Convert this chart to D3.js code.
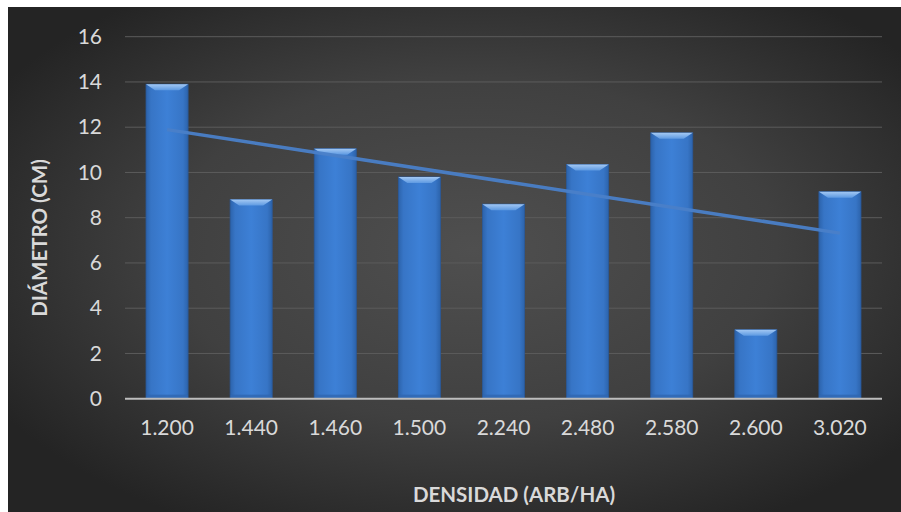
<!DOCTYPE html>
<html>
<head>
<meta charset="utf-8">
<script src="https://cdn.jsdelivr.net/npm/d3@7"></script>
<style>
  html, body { margin: 0; padding: 0; background: #ffffff; }
  svg { display: block; }
  text { font-family: Lato, "Open Sans", sans-serif; }
</style>
</head>
<body>
<svg id="chart" width="901" height="512"></svg>
<script>
// Densidad de plantación (árboles por hectárea) y diámetro medio (cm)
const categories = ["1.200", "1.440", "1.460", "1.500", "2.240", "2.480", "2.580", "2.600", "3.020"];
const diametro = [13.9, 8.8, 11.05, 9.8, 8.6, 10.35, 11.75, 3.05, 9.15];
const yTicks = [0, 2, 4, 6, 8, 10, 12, 14, 16];

const svg = d3.select("#chart");
const W = 901, H = 512;
const margin = { left: 125, right: 19, top: 36.7, bottom: 113.3 };

const defs = svg.append("defs");

// Fondo oscuro con degradado radial
const bg = defs.append("radialGradient").attr("id", "bgGrad")
  .attr("cx", "52%").attr("cy", "48%").attr("r", "62%");
bg.append("stop").attr("offset", "0%").attr("stop-color", "#4f4f4f");
bg.append("stop").attr("offset", "55%").attr("stop-color", "#404040");
bg.append("stop").attr("offset", "100%").attr("stop-color", "#242424");

// Cuerpo de la barra: azul con bordes algo más oscuros
const barGrad = defs.append("linearGradient").attr("id", "barGrad")
  .attr("x1", "0%").attr("x2", "100%").attr("y1", "0%").attr("y2", "0%");
barGrad.append("stop").attr("offset", "0%").attr("stop-color", "#2c63ab");
barGrad.append("stop").attr("offset", "12%").attr("stop-color", "#3775c6");
barGrad.append("stop").attr("offset", "50%").attr("stop-color", "#3d80d6");
barGrad.append("stop").attr("offset", "88%").attr("stop-color", "#3775c6");
barGrad.append("stop").attr("offset", "100%").attr("stop-color", "#2c63ab");

const bevelGrad = defs.append("linearGradient").attr("id", "bevelGrad")
  .attr("x1", "0%").attr("x2", "0%").attr("y1", "0%").attr("y2", "100%");
bevelGrad.append("stop").attr("offset", "0%").attr("stop-color", "#a3c8f3");
bevelGrad.append("stop").attr("offset", "100%").attr("stop-color", "#5e9ae2");

svg.append("rect").attr("x", 8).attr("y", 7).attr("width", W - 8).attr("height", H - 7)
  .attr("fill", "url(#bgGrad)");

const x = d3.scaleBand().domain(categories)
  .range([margin.left, W - margin.right]).paddingInner(0.5).paddingOuter(0.25);
const y = d3.scaleLinear().domain([0, 16]).range([H - margin.bottom, margin.top]);

// Líneas de división horizontales
svg.append("g").selectAll("line").data(yTicks.filter(d => d > 0)).join("line")
  .attr("x1", margin.left).attr("x2", W - margin.right)
  .attr("y1", d => y(d)).attr("y2", d => y(d))
  .attr("stroke", "#5c5c5c").attr("stroke-width", 1);

// Barras con bisel superior
const bars = svg.append("g").selectAll("g").data(categories.map((c, i) => ({ c, v: diametro[i] }))).join("g");
bars.append("rect")
  .attr("x", d => x(d.c)).attr("width", x.bandwidth())
  .attr("y", d => y(d.v)).attr("height", d => y(0) - y(d.v))
  .attr("fill", "url(#barGrad)")
  .attr("stroke", "#2a5a9c").attr("stroke-width", 0.8);
const bv = 6;
bars.append("path")
  .attr("d", d => {
    const x0 = x(d.c), x1 = x0 + x.bandwidth(), t = y(d.v);
    return `M${x0},${t}L${x1},${t}L${x1 - bv * 1.5},${t + bv}L${x0 + bv * 1.5},${t + bv}Z`;
  })
  .attr("fill", "url(#bevelGrad)");
bars.append("rect")
  .attr("x", d => x(d.c) + 0.5).attr("width", x.bandwidth() - 1)
  .attr("y", y(0) - 4).attr("height", 4)
  .attr("fill", "#2f67b0").attr("opacity", 0.8);

// Eje X
svg.append("line")
  .attr("x1", margin.left).attr("x2", W - margin.right)
  .attr("y1", y(0)).attr("y2", y(0))
  .attr("stroke", "#bdbdbd").attr("stroke-width", 2);

// Etiquetas de los ejes
const yAxis = d3.axisLeft(y).tickValues(yTicks).tickSize(0).tickPadding(23);
const gy = svg.append("g").attr("transform", `translate(${margin.left},0)`).call(yAxis);
gy.select(".domain").remove();
gy.selectAll("text").attr("fill", "#d9d9d9").style("font-size", "21px")
  .style("font-family", "Lato, 'Open Sans', sans-serif");

const xAxis = d3.axisBottom(x).tickSize(0).tickPadding(21);
const gx = svg.append("g").attr("transform", `translate(0,${y(0)})`).call(xAxis);
gx.select(".domain").remove();
gx.selectAll("text").attr("fill", "#d9d9d9").style("font-size", "21px")
  .style("font-family", "Lato, 'Open Sans', sans-serif");

// Línea de tendencia lineal (mínimos cuadrados)
const n = diametro.length;
const mx = d3.mean(d3.range(n)), my = d3.mean(diametro);
const slope = d3.sum(d3.range(n), i => (i - mx) * (diametro[i] - my)) / d3.sum(d3.range(n), i => (i - mx) ** 2);
const icpt = my - slope * mx;
const trend = [0, n - 1].map(i => [x(categories[i]) + x.bandwidth() / 2, y(icpt + slope * i)]);
svg.append("path").attr("d", d3.line()(trend))
  .attr("stroke", "#4a80c8").attr("stroke-width", 3.5).attr("fill", "none")
  .attr("stroke-linecap", "butt").attr("opacity", 0.95);

// Títulos de los ejes
svg.append("text").attr("x", 514).attr("y", 502)
  .attr("text-anchor", "middle").attr("fill", "#d9d9d9")
  .style("font-size", "20.5px").style("font-weight", "bold")
  .text("DENSIDAD (ARB/HA)");
svg.append("text").attr("transform", "translate(47,238) rotate(-90)")
  .attr("text-anchor", "middle").attr("fill", "#d9d9d9")
  .style("font-size", "20.5px").style("font-weight", "bold")
  .text("DIÁMETRO (CM)");
</script>
</body>
</html>
